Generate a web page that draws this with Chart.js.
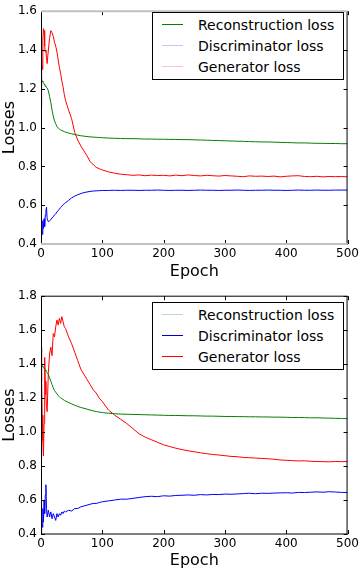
<!DOCTYPE html>
<html>
<head>
<meta charset="utf-8">
<script src="https://cdn.jsdelivr.net/npm/chart.js@4.4.0/dist/chart.umd.min.js"></script>
<style>
  body { margin: 0; background: #fff; font-family: "DejaVu Sans", sans-serif; }
  .panel { position: relative; width: 362px; height: 285px; }
  .legend { position: absolute; left: 152px; width: 190px; height: 65px; border: 1px solid #000;
            background: #fff; padding: 1px 0 0 0; font-size: 14px; color: #000; }
  .legend .row { height: 21px; display: flex; align-items: center; }
  .legend .sw { width: 21px; height: 0; border-top: 1.5px solid; margin-left: 9px; margin-right: 15px; }
</style>
</head>
<body>
<div class="panel"><canvas id="c1" width="362" height="285"></canvas><div class="legend" id="l1" style="top:12px"></div></div>
<div class="panel"><canvas id="c2" width="362" height="285"></canvas><div class="legend" id="l2" style="top:17px"></div></div>
<script>
// epochs (denser where the curves move a lot)
const epochs = [0,1,2,3,4,5,6,7,8,9,10,
  12,14,16,18,20,22,24,26,28,30,32,34,36,38,40,
  45,50,55,60,65,70,75,80,85,90,95,100,
  110,120,130,140,150,160,170,180,190,200,210,220,230,240,250,260,270,280,290,300,
  310,320,330,340,350,360,370,380,390,400,410,420,430,440,450,460,470,480,490,500];

// top panel
const topRecon = [1.25,1.245,1.24,1.235,1.23,1.225,1.22,1.215,1.21,1.207,1.205,
  1.19,1.16,1.13,1.09,1.06,1.035,1.02,1.005,0.998,0.992,0.988,0.985,0.982,0.979,0.977,
  0.972,0.968,0.964,0.961,0.958,0.956,0.954,0.952,0.951,0.95,0.949,0.948,
  0.946,0.945,0.944,0.943,0.943,0.942,0.941,0.941,0.940,0.940,0.939,0.939,0.938,0.938,0.937,0.936,0.935,0.934,0.933,0.932,
  0.931,0.930,0.929,0.928,0.927,0.926,0.926,0.925,0.924,0.923,0.922,0.921,0.921,0.920,0.919,0.919,0.918,0.918,0.917,0.917];
const topDisc = [0.44,0.51,0.45,0.52,0.48,0.53,0.49,0.55,0.57,0.59,0.53,
  0.515,0.52,0.525,0.535,0.54,0.55,0.555,0.565,0.572,0.58,0.588,0.595,0.602,0.608,0.613,
  0.625,0.638,0.647,0.654,0.66,0.665,0.668,0.671,0.673,0.674,0.675,0.676,
  0.676,0.677,0.676,0.677,0.677,0.676,0.677,0.677,0.678,0.677,0.676,0.677,0.677,0.676,0.677,0.678,0.677,0.677,0.676,0.677,
  0.677,0.678,0.677,0.676,0.677,0.677,0.678,0.677,0.677,0.676,0.677,0.678,0.677,0.677,0.678,0.677,0.677,0.678,0.678,0.678];
const topGen = [1.10,1.36,1.30,1.45,1.51,1.50,1.42,1.39,1.40,1.36,1.33,
  1.40,1.46,1.50,1.49,1.47,1.44,1.42,1.39,1.35,1.31,1.28,1.24,1.21,1.17,1.14,
  1.09,1.045,0.975,0.935,0.905,0.88,0.855,0.825,0.81,0.795,0.788,0.782,
  0.772,0.765,0.76,0.757,0.754,0.756,0.752,0.755,0.753,0.754,0.751,0.755,0.752,0.756,0.753,0.751,0.754,0.752,0.750,0.753,
  0.751,0.749,0.747,0.751,0.749,0.750,0.748,0.750,0.746,0.749,0.751,0.752,0.748,0.747,0.749,0.746,0.748,0.747,0.748,0.746];

// bottom panel
const botRecon = [1.40,1.395,1.39,1.385,1.38,1.375,1.37,1.365,1.36,1.355,1.35,
  1.34,1.32,1.30,1.28,1.26,1.245,1.235,1.225,1.215,1.208,1.202,1.197,1.192,1.187,1.183,
  1.174,1.166,1.158,1.151,1.145,1.14,1.135,1.13,1.125,1.121,1.118,1.115,
  1.111,1.108,1.106,1.105,1.104,1.103,1.102,1.101,1.100,1.099,1.098,1.098,1.097,1.096,1.096,1.095,1.094,1.094,1.093,1.092,
  1.092,1.091,1.091,1.090,1.090,1.089,1.089,1.088,1.088,1.087,1.086,1.086,1.085,1.084,1.084,1.083,1.082,1.081,1.080,1.079];
const botDisc = [0.41,0.50,0.44,0.55,0.47,0.60,0.52,0.63,0.69,0.55,0.50,
  0.54,0.50,0.53,0.49,0.52,0.50,0.48,0.52,0.50,0.52,0.51,0.53,0.52,0.535,0.53,
  0.54,0.535,0.55,0.55,0.56,0.565,0.57,0.575,0.58,0.58,0.585,0.59,
  0.595,0.60,0.605,0.605,0.61,0.615,0.62,0.622,0.62,0.625,0.623,0.627,0.628,0.63,0.628,0.632,0.63,0.633,0.632,0.635,
  0.634,0.636,0.638,0.64,0.637,0.64,0.639,0.641,0.642,0.643,0.641,0.645,0.644,0.646,0.648,0.646,0.649,0.647,0.645,0.644];
const botGen = [1.50,1.30,1.10,0.95,0.86,1.05,1.44,1.30,1.22,1.15,1.12,
  1.35,1.46,1.50,1.45,1.58,1.56,1.62,1.66,1.63,1.67,1.64,1.68,1.65,1.62,1.61,
  1.56,1.52,1.47,1.42,1.37,1.34,1.31,1.28,1.25,1.23,1.20,1.18,
  1.13,1.10,1.075,1.05,1.02,0.99,0.97,0.955,0.94,0.925,0.915,0.905,0.897,0.89,0.884,0.878,0.873,0.868,0.865,0.861,
  0.857,0.855,0.851,0.849,0.847,0.845,0.843,0.84,0.836,0.834,0.832,0.83,0.831,0.828,0.827,0.826,0.825,0.827,0.826,0.827];

const seriesLabels = ['Reconstruction loss', 'Discriminator loss', 'Generator loss'];
const lineColors = ['#008000', '#0000ff', '#ff0000'];
const topLegendColors = ['#008000', '#c4c4ff', '#ffc4c4'];
const botLegendColors = ['#bcdcbc', '#0000cc', '#ff0000'];
const xTicks = [0, 100, 200, 300, 400, 500];

const FONT = '"DejaVu Sans", sans-serif';

// matplotlib-like frame with inward ticks on all four sides
const frame = {
  id: 'frame',
  afterDraw(chart, args, opts) {
    const ctx = chart.ctx, a = chart.chartArea, x = chart.scales.x, y = chart.scales.y;
    ctx.save();
    ctx.strokeStyle = '#000';
    ctx.lineWidth = 1;
    ctx.beginPath();
    x.ticks.forEach(t => {
      const px = Math.round(x.getPixelForValue(t.value)) + 0.5;
      ctx.moveTo(px, a.bottom); ctx.lineTo(px, a.bottom - 4);
      ctx.moveTo(px, a.top); ctx.lineTo(px, a.top + 4);
    });
    y.ticks.forEach(t => {
      const py = Math.round(y.getPixelForValue(t.value)) + 0.5;
      ctx.moveTo(a.left, py); ctx.lineTo(a.left + 4, py);
      ctx.moveTo(a.right, py); ctx.lineTo(a.right - 4, py);
    });
    ctx.stroke();
    ctx.beginPath();
    ctx.moveTo(a.left + 0.5, a.top); ctx.lineTo(a.left + 0.5, a.bottom);
    ctx.moveTo(a.right - 0.5, a.top); ctx.lineTo(a.right - 0.5, a.bottom);
    ctx.stroke();
    ctx.strokeStyle = opts.hColor;
    ctx.lineWidth = opts.hWidth;
    ctx.beginPath();
    ctx.moveTo(a.left, a.top); ctx.lineTo(a.right, a.top);
    ctx.moveTo(a.left, a.bottom); ctx.lineTo(a.right, a.bottom);
    ctx.stroke();
    ctx.restore();
  }
};

function makeChart(id, legendId, vals, yMax, legendColors, pad, xH, titlePad, hColor, hWidth) {
  const datasets = vals.map((v, i) => ({
    label: seriesLabels[i],
    data: epochs.map((e, j) => ({ x: e, y: v[j] })),
    borderColor: lineColors[i],
    borderWidth: 1,
    pointRadius: 0,
    tension: 0
  }));
  new Chart(document.getElementById(id), {
    type: 'line',
    data: { datasets },
    options: {
      responsive: false,
      animation: false,
      devicePixelRatio: 1,
      layout: { padding: { top: pad, right: 11, left: 0, bottom: 0 } },
      plugins: { legend: { display: false }, tooltip: { enabled: false }, frame: { hColor, hWidth } },
      scales: {
        x: {
          type: 'linear', min: 0, max: 500,
          afterBuildTicks: s => { s.ticks = xTicks.map(v => ({ value: v })); },
          ticks: { color: '#000', font: { family: FONT, size: 12 }, padding: 3, maxRotation: 0 },
          grid: { display: false, drawTicks: false },
          border: { display: false },
          title: { display: true, text: 'Epoch', color: '#000', font: { family: FONT, size: 16 }, padding: { top: 0, bottom: titlePad } },
          afterFit: s => { s.height = xH; }
        },
        y: {
          min: 0.4, max: yMax,
          ticks: { stepSize: 0.2, color: '#000', font: { family: FONT, size: 12 }, padding: 4,
                   callback: v => v.toFixed(1) },
          grid: { display: false, drawTicks: false },
          border: { display: false },
          title: { display: true, text: 'Losses', color: '#000', font: { family: FONT, size: 16 }, padding: { top: 0, bottom: 0 } },
          afterFit: s => { s.width = 41; }
        }
      }
    },
    plugins: [frame]
  });
  const lg = document.getElementById(legendId);
  seriesLabels.forEach((lab, i) => {
    const row = document.createElement('div');
    row.className = 'row';
    const sw = document.createElement('span');
    sw.className = 'sw';
    sw.style.borderTopColor = legendColors[i];
    const tx = document.createElement('span');
    tx.textContent = lab;
    row.appendChild(sw); row.appendChild(tx);
    lg.appendChild(row);
  });
}

makeChart('c1', 'l1', [topRecon, topDisc, topGen], 1.6, topLegendColors, 5, 41, 4, '#c0c0c0', 2);
makeChart('c2', 'l2', [botRecon, botDisc, botGen], 1.8, botLegendColors, 10, 36, 0, '#000', 1);
</script>
</body>
</html>
